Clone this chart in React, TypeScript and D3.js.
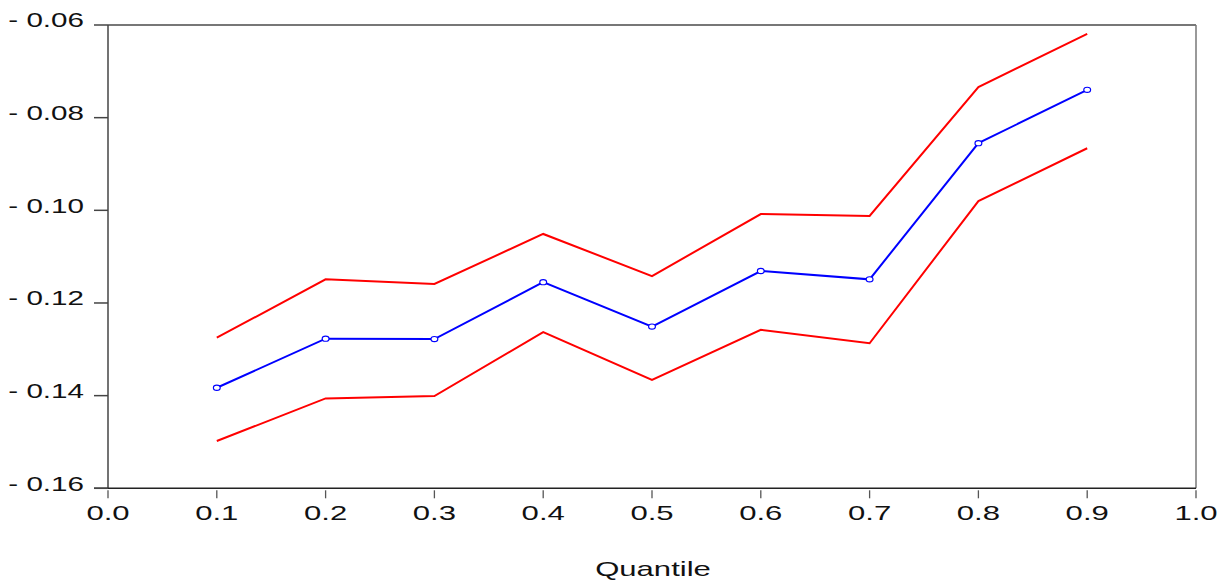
import React from "react";
import * as d3 from "d3";

const quantiles = [0.1, 0.2, 0.3, 0.4, 0.5, 0.6, 0.7, 0.8, 0.9];
const estimate = [-0.1383, -0.1277, -0.1278, -0.1155, -0.1251, -0.1131, -0.1149, -0.0855, -0.074];
const upperBand = [-0.1275, -0.1149, -0.1159, -0.1051, -0.1142, -0.1008, -0.1012, -0.0734, -0.0619];
const lowerBand = [-0.1498, -0.1406, -0.1401, -0.1263, -0.1366, -0.1258, -0.1287, -0.098, -0.0866];
const xTicks = [0.0, 0.1, 0.2, 0.3, 0.4, 0.5, 0.6, 0.7, 0.8, 0.9, 1.0];
const yTicks = [-0.06, -0.08, -0.1, -0.12, -0.14, -0.16];
const xTitle = "Quantile";

const W = 1219;
const H = 580;
const L = 108, R = 1196, T = 25, B = 488.3;
const SX = 1.48;
const FONT = "'Liberation Sans', Arial, sans-serif";

export default function App() {
  const x = d3.scaleLinear().domain([0, 1]).range([L, R]);
  const y = d3.scaleLinear().domain([-0.16, -0.06]).range([B, T]);
  const line = d3
    .line<number>()
    .x((_, i) => x(quantiles[i]))
    .y((d) => y(d));

  const fmtY = (v: number) => "- " + Math.abs(v).toFixed(2);

  const stretched = (tx: number, ty: number, anchor: string, size: number, text: string, key: string) => (
    <g key={key} transform={`translate(${tx},${ty}) scale(${SX},1)`}>
      <text x={0} y={0} textAnchor={anchor} fontSize={size} fontFamily={FONT} fill="#111">
        {text}
      </text>
    </g>
  );

  return (
    <svg
      width={W}
      height={H}
      style={{ position: "absolute", left: 0, top: 0, background: "#fff" }}
    >
      <rect x={0} y={0} width={W} height={H} fill="#fff" />
      {/* frame */}
      <line x1={L} y1={T} x2={R} y2={T} stroke="#777" strokeWidth={2} />
      <line x1={R} y1={T} x2={R} y2={B} stroke="#777" strokeWidth={1.5} />
      <line x1={L} y1={T} x2={L} y2={B} stroke="#444" strokeWidth={1.5} />
      <line x1={L - 14} y1={B} x2={R} y2={B} stroke="#222" strokeWidth={1.5} />

      {/* y ticks */}
      {yTicks.map((v, i) => (
        <g key={"yt" + i}>
          <line x1={L - 14} x2={L} y1={y(v)} y2={y(v)} stroke="#444" strokeWidth={1.5} />
          {stretched(84, y(v) + 2.3, "end", 20, fmtY(v), "yl" + i)}
        </g>
      ))}

      {/* x ticks */}
      {xTicks.map((v, i) => (
        <g key={"xt" + i}>
          <line x1={x(v)} x2={x(v)} y1={B + 2} y2={B + 10} stroke="#555" strokeWidth={1.3} />
          {stretched(x(v), 520, "middle", 21, v.toFixed(1), "xl" + i)}
        </g>
      ))}

      {stretched((L + R) / 2 + 1, 576, "middle", 21, xTitle, "title")}

      {/* series */}
      <path d={line(upperBand) || ""} fill="none" stroke="#ff0000" strokeWidth={2} />
      <path d={line(lowerBand) || ""} fill="none" stroke="#ff0000" strokeWidth={2} />
      <path d={line(estimate) || ""} fill="none" stroke="#0000ff" strokeWidth={2} />
      {estimate.map((v, i) => (
        <ellipse
          key={"m" + i}
          cx={x(quantiles[i])}
          cy={y(v)}
          rx={3.4}
          ry={2.6}
          fill="#fff"
          stroke="#0000ff"
          strokeWidth={1.2}
        />
      ))}
    </svg>
  );
}
